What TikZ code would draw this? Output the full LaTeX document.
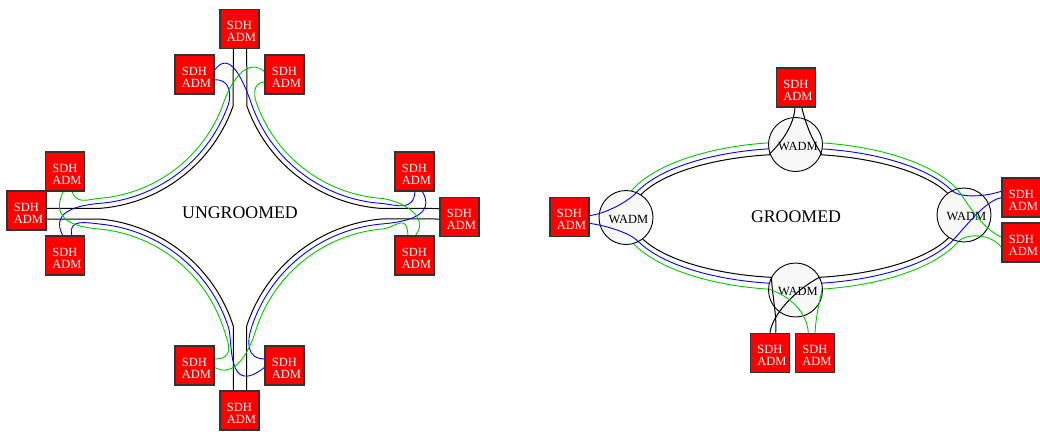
\documentclass[tikz,border=0pt]{standalone}
\usepackage{fontspec}
\setmainfont{Liberation Serif}
\definecolor{sdhred}{RGB}{255,0,0}
\definecolor{lblue}{RGB}{0,0,255}
\definecolor{lgreen}{RGB}{0,200,0}
\definecolor{wfill}{RGB}{248,248,248}
\begin{document}
\begin{tikzpicture}[x=1pt,y=-1pt,
  sdh/.style={draw=black!80, line width=1.1pt, fill=sdhred, minimum width=39pt, minimum height=39pt, inner sep=0pt,
    label={[text=white, font=\fontsize{12.5}{12}\selectfont, align=left, xshift=2pt, yshift=-2.5pt]center:SDH\\ADM}},
  wadm/.style={circle, draw=black, line width=0.9pt, fill=wfill, minimum size=54pt, inner sep=0pt,
    label={[font=\fontsize{12.5}{12}\selectfont, xshift=2.5pt, yshift=-1.5pt]center:WADM}},
  blk/.style={draw=black, line width=1pt, line join=round},
  bl/.style={draw=lblue, line width=0.9pt, line join=round},
  gr/.style={draw=lgreen, line width=0.9pt, line join=round},
  title/.style={font=\fontsize{17.8}{20}\selectfont, inner sep=0pt}
]
\useasboundingbox (0,0) rectangle (1040,431);

% ---------------- UNGROOMED ----------------
\begin{scope}[samples=60]
% black ring
\draw[blk] (233.3,48) -- plot[domain=19.3:85.5] ({88+153.8*cos(\x)},{55+153.8*sin(\x)}) -- (46,208.3);
\draw[blk] (440,208.5) -- plot[domain=93.7:160.7] ({392+153.8*cos(\x)},{55+153.8*sin(\x)}) -- (246.7,48);
\draw[blk] (46,219) -- plot[domain=-84.7:-17.8] ({85.7+155*cos(\x)},{373.4+155*sin(\x)}) -- (233.3,391);
\draw[blk] (246.7,391) -- plot[domain=-161.9:-94.8] ({395+156*cos(\x)},{374.4+156*sin(\x)}) -- (440,219);
% blue
\draw[bl] (214,80) .. controls (230,78) and (231.5,95) .. (228.4,104.2) -- plot[domain=19.3:85.5] ({88+148.8*cos(\x)},{55+148.8*sin(\x)}) .. controls (76,205.5) and (50,212) .. (63,236);
\draw[bl] (415,191) .. controls (414,212) and (396,205) .. (382.4,203.5) -- plot[domain=93.7:160.7] ({392+148.8*cos(\x)},{55+148.8*sin(\x)}) .. controls (244.3,83.4) and (230,47) .. (214,71);
\draw[bl] (265,359) .. controls (246,359) and (247,341) .. (251.5,327.5) -- plot[domain=-161.9:-94.8] ({395+151*cos(\x)},{374.4+151*sin(\x)}) .. controls (405,222) and (437,216) .. (422,191);
\draw[bl] (72,236) .. controls (67,218) and (87.6,222.9) .. (99.6,224) -- plot[domain=-84.7:-17.8] ({85.7+150*cos(\x)},{373.4+150*sin(\x)}) .. controls (233.1,341.8) and (226,398) .. (265,367);
% green
\draw[gr] (265,72) .. controls (248,57) and (232,79) .. (223.7,102.5) -- plot[domain=19.3:85.5] ({88+143.8*cos(\x)},{55+143.8*sin(\x)}) .. controls (88.3,199.3) and (76,205) .. (72,191);
\draw[gr] (415,236) .. controls (430,218) and (405,202) .. (382.7,198.5) -- plot[domain=93.7:160.7] ({392+143.8*cos(\x)},{55+143.8*sin(\x)}) .. controls (253,93) and (254,82) .. (265,82);
\draw[gr] (214,367) .. controls (235,380) and (250,350) .. (256.2,329) -- plot[domain=-161.9:-94.8] ({395+146*cos(\x)},{374.4+146*sin(\x)}) .. controls (395,228) and (407,212) .. (408,236);
\draw[gr] (63,192) .. controls (50,220) and (75,227) .. (99.1,229) -- plot[domain=-84.7:-17.8] ({85.7+145*cos(\x)},{373.4+145*sin(\x)}) .. controls (228.1,342.4) and (236,359) .. (214,359);
\end{scope}

\node[sdh] (T)  at (239.5,29) {};
\node[sdh] (TL) at (194.5,74.5) {};
\node[sdh] (TR) at (284.5,74.5) {};
\node[sdh] (L)  at (26.5,210.5) {};
\node[sdh] (UL) at (65,171.5) {};
\node[sdh] (LL) at (65,255.5) {};
\node[sdh] (R)  at (459.5,217) {};
\node[sdh] (UR) at (414.5,171.5) {};
\node[sdh] (LR) at (414.5,255.5) {};
\node[sdh] (B)  at (239.5,410.5) {};
\node[sdh] (BL) at (194.5,365.5) {};
\node[sdh] (BR) at (284.5,365.5) {};
\node[title] (ug) at (240,212.5) {UNGROOMED};

% ---------------- GROOMED ----------------
\draw[gr] (795,216) ellipse [x radius=174pt, y radius=74pt];
\draw[bl] (795,216) ellipse [x radius=169pt, y radius=68pt];
\draw[blk] (795,216) ellipse [x radius=164pt, y radius=62pt];

\node[wadm] (WL) at (626,217.5) {};
\node[wadm] (WT) at (795.5,144.5) {};
\node[wadm] (WR) at (964,215) {};
\node[wadm] (WB) at (795.5,290) {};

\draw[bl] (589.3,215.7) .. controls (608,213) and (628.8,200.8) .. (637,192);
\draw[bl] (589.3,223.3) .. controls (608,226) and (629.8,233) .. (638.3,241.5);
\draw[blk] (795,107.3) .. controls (794,125) and (782,142) .. (769,154.5);
\draw[blk] (801.7,107.3) .. controls (806,125) and (812,140) .. (822,154.5);
\draw[bl] (1002,191) .. controls (985,197) and (960,198) .. (952,190.8);
\draw[bl] (1002,197.5) .. controls (985,200) and (963,230) .. (953,240.1);
\draw[gr] (957,189) .. controls (964,197) and (980,228) .. (1002,237.5);
\draw[gr] (958.5,241.3) .. controls (965,234) and (990,232) .. (1002,248);
\draw[blk] (770,332.7) .. controls (772,315) and (795,290) .. (819.5,277.3);
\draw[blk] (775.7,332.7) .. controls (777,315) and (772,295) .. (771.5,277.3);
\draw[gr] (808.3,332.7) .. controls (807,312) and (790,296) .. (769,289.2);
\draw[gr] (815,332.7) .. controls (816,315) and (820,300) .. (822,289.2);

\node[sdh] (SL)  at (569.5,217) {};
\node[sdh] (ST)  at (796,87.5) {};
\node[sdh] (SR1) at (1021.5,197.5) {};
\node[sdh] (SR2) at (1021.5,242.5) {};
\node[sdh] (SB1) at (770,352.7) {};
\node[sdh] (SB2) at (815,352.7) {};
\node[title] (g) at (796,216.5) {GROOMED};
\end{tikzpicture}
\end{document}
